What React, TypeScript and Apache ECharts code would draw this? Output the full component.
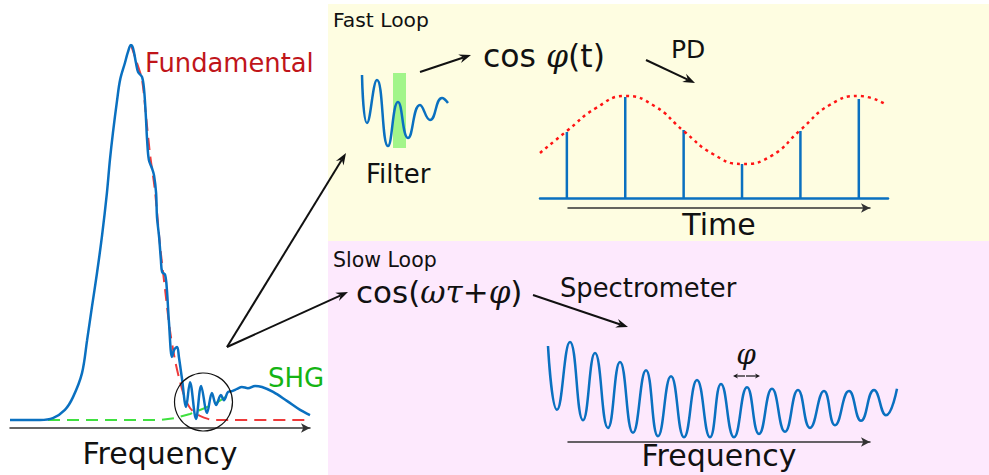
import React, { useEffect, useRef } from "react";
import * as echarts from "echarts";

// Left panel: measured spectrum, [frequency, intensity]
const spectrum: [number, number][] = [
  [0, 0], [10, 0], [14.3, 0.5], [18.3, 2.7], [21, 6.1], [24, 12.5], [25.7, 21.3],
  [27.3, 30.1], [29, 39.2], [30.7, 49.3], [32.3, 60.5], [33.3, 69.3], [34.3, 76.5],
  [35.7, 85.3], [36.7, 90.7], [38.3, 95.2], [39.3, 98.1], [40.3, 100], [41, 99.2],
  [42, 95.2], [42.7, 92.8], [44, 91.5], [44.7, 88], [45.3, 80.8], [45.7, 74.7],
  [46.3, 69.3], [47.3, 67.2], [48, 65.3], [48.7, 60.5], [49, 54.1], [49.7, 48.8],
  [50.3, 42.7], [50.7, 39.5], [51.7, 38.7], [52.3, 34.7], [53, 25.9], [54, 16.8],
  [54.7, 18.7], [55.7, 19.5], [56.3, 16.8], [57.3, 11.2], [58.7, 3.5], [60, 10.1],
  [62, 0.3], [63.7, 9.1], [65.7, 1.9], [67.3, 7.2], [68.7, 4], [70.3, 6.7],
  [71.3, 5.3], [72.7, 7.5], [74, 7.7], [75.7, 8.3], [77.3, 8.8], [79.3, 8.5],
  [81.7, 9.1], [84, 8.8], [87.7, 7.5], [92.3, 5.1], [96.7, 2.7], [100, 1.3],
];

// Fitted fundamental peak (falling edge) and SHG component
const fundamentalFit: [number, number][] = [
  [40.3, 100], [42, 96], [44, 90.7], [45.3, 81.3], [46.7, 70.7], [48.3, 61.3],
  [50, 46.7], [51.7, 34.7], [53.3, 24], [55, 16], [56.7, 10.1], [58.3, 5.9],
  [60, 3.2], [61.7, 1.9], [63.3, 1.1], [66, 0.3], [68.3, 0], [100, 0],
];
const shgFit: [number, number][] = [
  [0, 0], [50, 0], [55, 0.5], [60, 1.6], [65, 3.2], [69.3, 4.8], [73.3, 6.9],
];

// Fast loop: filtered fringe trace and pass band
const filterTrace: [number, number][] = [
  [7, 0.7], [12, -0.26], [22, 0.6], [33, -0.72], [43, 0.16], [53, -0.56],
  [65, 0.1], [75, -0.2], [87, 0.24], [93, 0.14],
];
const filterBand: [number, number][] = [[38, 0.74], [51, -0.76]];

// Photodiode pulses [pulse index, amplitude] and their envelope
const pulseAmplitudes: [number, number][] = [
  [1, 0.66], [2, 1.01], [3, 0.68], [4, 0.34], [5, 0.67], [6, 0.99],
];
const pulseEnvelope: [number, number][] = [
  [0.54, 0.45], [1, 0.67], [1.5, 0.9], [2, 1.02], [2.5, 0.92], [3, 0.67],
  [3.5, 0.44], [4, 0.34], [4.5, 0.42], [5, 0.68], [5.5, 0.93], [6, 1.02], [6.48, 0.93],
];

// Slow loop: spectral interference fringes
const fringes: [number, number][] = [
  [0, 0.71], [0.36, -0.45], [0.88, 0.78], [1.4, -0.64], [1.88, 0.58], [2.4, -0.78],
  [2.88, 0.42], [3.4, -0.87], [3.92, 0.27], [4.4, -0.93], [4.92, 0.16], [5.44, -0.95],
  [5.96, 0.09], [6.48, -0.95], [6.92, 0.02], [7.44, -0.95], [7.96, -0.04], [8.44, -0.89],
  [8.96, -0.07], [9.48, -0.85], [10, -0.09], [10.48, -0.78], [11.04, -0.11], [11.48, -0.73],
  [12.04, -0.11], [12.52, -0.65], [13.04, -0.09], [13.52, -0.55], [13.96, -0.07],
];

const FONT = "DejaVu Sans";
const SERIF = "DejaVu Serif";
const INK = "#111111";
const BLUE = "#0a70c0";

function arrowParts(x1: number, y1: number, x2: number, y2: number, len = 12, half = 4.5, notch = 4, width = 2) {
  const dx = x2 - x1;
  const dy = y2 - y1;
  const d = Math.hypot(dx, dy);
  const ux = dx / d;
  const uy = dy / d;
  const nx = -uy;
  const ny = ux;
  const bx = x2 - len * ux;
  const by = y2 - len * uy;
  const mx = x2 - (len - notch) * ux;
  const my = y2 - (len - notch) * uy;
  return [
    { type: "line", z: 20, shape: { x1, y1, x2: mx, y2: my }, style: { stroke: INK, lineWidth: width } },
    {
      type: "polygon",
      z: 20,
      shape: { points: [[x2, y2], [bx + half * nx, by + half * ny], [mx, my], [bx - half * nx, by - half * ny]] },
      style: { fill: INK },
    },
  ];
}

function label(text: string, x: number, y: number, size: number, fill = INK, align = "left") {
  return {
    type: "text",
    z: 20,
    x,
    y,
    style: { text, fontSize: size, fontFamily: FONT, fill, align, verticalAlign: "middle" },
  };
}

function mathLabel(text: string, x: number, y: number, size: number) {
  return {
    type: "text",
    z: 20,
    x,
    y,
    style: {
      text,
      align: "left",
      verticalAlign: "middle",
      rich: {
        a: { fontSize: size, fontFamily: FONT, fill: INK },
        g: { fontSize: size, fontFamily: SERIF, fontStyle: "italic", fill: INK },
      },
    },
  };
}

function arrowAxis(grid: number, name: string, nameGap: number) {
  return {
    gridIndex: grid,
    type: "value",
    min: 0,
    max: 1,
    name,
    nameLocation: "middle",
    nameGap,
    nameTextStyle: { fontSize: 30, fontFamily: FONT, color: INK },
    axisLine: {
      show: true,
      onZero: false,
      symbol: ["none", "arrow"],
      symbolSize: [7, 9],
      lineStyle: { color: "#333", width: 1.5 },
    },
    axisTick: { show: false },
    axisLabel: { show: false },
    splitLine: { show: false },
  };
}

export default function App() {
  const ref = useRef<HTMLDivElement>(null);

  useEffect(() => {
    if (!ref.current) return;
    const chart = echarts.init(ref.current, null, { renderer: "svg" });

    const hidden = { show: false };
    const graphic: any[] = [
      { type: "rect", z: -5, shape: { x: 328, y: 4, width: 661, height: 237 }, style: { fill: "#fefde1" } },
      { type: "rect", z: -5, shape: { x: 328, y: 241, width: 661, height: 234 }, style: { fill: "#fde9fd" } },
      { type: "circle", z: 20, shape: { cx: 203.5, cy: 402, r: 29 }, style: { fill: "none", stroke: INK, lineWidth: 1.2 } },
      label("Fundamental", 145, 62.5, 25.8, "#c0151a"),
      label("SHG", 268, 377.5, 26, "#14b414"),
      label("Fast Loop", 333, 19.5, 20.3),
      label("Slow Loop", 333, 259.5, 20.5),
      label("Filter", 366, 174, 26),
      label("PD", 671, 49, 25),
      label("Spectrometer", 560, 287.5, 25.8),
      mathLabel("{a|cos }{g|φ}{a|(t)}", 483, 56, 31.5),
      mathLabel("{a|cos(}{g|ωτ}{a|+}{g|φ}{a|)}", 356, 292, 31),
      {
        type: "text",
        z: 20,
        x: 746,
        y: 354,
        style: { text: "φ", fontSize: 28, fontFamily: SERIF, fontStyle: "italic", fill: INK, align: "center", verticalAlign: "middle" },
      },
      ...arrowParts(227, 347, 346, 153),
      ...arrowParts(227, 347, 348, 292),
      ...arrowParts(420, 72, 471, 55),
      ...arrowParts(646, 60, 695, 83),
      ...arrowParts(533, 295, 628, 327),
      ...arrowParts(745, 376, 733, 376, 5, 2.5, 1.5, 1.2),
      ...arrowParts(746, 376, 760, 376, 5, 2.5, 1.5, 1.2),
    ];

    chart.setOption({
      animation: false,
      backgroundColor: "#ffffff",
      grid: [
        { left: 10, top: 45, width: 300, height: 383 },
        { left: 355, top: 60, width: 100, height: 100 },
        { left: 540, top: 88, width: 348, height: 110 },
        { left: 568, top: 180, width: 302, height: 28 },
        { left: 548, top: 330, width: 350, height: 110 },
        { left: 568, top: 420, width: 302, height: 22 },
      ],
      xAxis: [
        {
          gridIndex: 0,
          type: "value",
          min: 0,
          max: 100,
          name: "Frequency",
          nameLocation: "middle",
          nameGap: 10,
          nameTextStyle: { fontSize: 30, fontFamily: FONT, color: INK },
          axisLine: {
            show: true,
            onZero: false,
            symbol: ["none", "arrow"],
            symbolSize: [7, 9],
            lineStyle: { color: "#333", width: 1.5 },
          },
          axisTick: hidden,
          axisLabel: hidden,
          splitLine: hidden,
        },
        { gridIndex: 1, type: "value", min: 0, max: 100, show: false },
        {
          gridIndex: 2,
          type: "value",
          min: 0.54,
          max: 6.5,
          axisLine: { show: true, onZero: true, lineStyle: { color: BLUE, width: 2.5 } },
          axisTick: hidden,
          axisLabel: hidden,
          splitLine: hidden,
        },
        arrowAxis(3, "Time", 1),
        { gridIndex: 4, type: "value", min: 0, max: 14, show: false },
        arrowAxis(5, "Frequency", -1.5),
      ],
      yAxis: [
        { gridIndex: 0, type: "value", min: -2.13, max: 100, show: false },
        { gridIndex: 1, type: "value", min: -1, max: 1, show: false },
        { gridIndex: 2, type: "value", min: 0, max: 1.1, show: false },
        { gridIndex: 3, type: "value", min: 0, max: 1, show: false },
        { gridIndex: 4, type: "value", min: -1, max: 1, show: false },
        { gridIndex: 5, type: "value", min: 0, max: 1, show: false },
      ],
      series: [
        {
          name: "SHG",
          type: "line",
          xAxisIndex: 0,
          yAxisIndex: 0,
          data: shgFit,
          showSymbol: false,
          z: 2,
          lineStyle: { color: "#40e040", width: 2, type: [12, 7] },
        },
        {
          name: "Fundamental",
          type: "line",
          xAxisIndex: 0,
          yAxisIndex: 0,
          data: fundamentalFit,
          showSymbol: false,
          smooth: 0.3,
          z: 3,
          lineStyle: { color: "#ee3a3a", width: 2, type: [12, 7] },
        },
        {
          name: "Spectrum",
          type: "line",
          xAxisIndex: 0,
          yAxisIndex: 0,
          data: spectrum,
          showSymbol: false,
          smooth: 0.35,
          z: 4,
          lineStyle: { color: BLUE, width: 2.5 },
        },
        {
          name: "Filtered",
          type: "line",
          xAxisIndex: 1,
          yAxisIndex: 1,
          data: filterTrace,
          showSymbol: false,
          smooth: 0.5,
          z: 3,
          lineStyle: { color: BLUE, width: 2.5 },
        },
        {
          name: "Pass band",
          type: "line",
          xAxisIndex: 1,
          yAxisIndex: 1,
          data: filterBand,
          showSymbol: false,
          z: 6,
          lineStyle: { opacity: 0 },
          markArea: {
            silent: true,
            itemStyle: { color: "rgba(100,240,80,0.6)" },
            data: [[{ coord: filterBand[0] }, { coord: filterBand[1] }]],
          },
        },
        {
          name: "Pulses",
          type: "bar",
          xAxisIndex: 2,
          yAxisIndex: 2,
          data: pulseAmplitudes,
          barWidth: 2.5,
          z: 3,
          itemStyle: { color: BLUE },
        },
        {
          name: "Envelope",
          type: "line",
          xAxisIndex: 2,
          yAxisIndex: 2,
          data: pulseEnvelope,
          showSymbol: false,
          smooth: 0.5,
          z: 5,
          lineStyle: { color: "#ff1414", width: 2.5, type: [3, 4] },
        },
        {
          name: "Fringes",
          type: "line",
          xAxisIndex: 4,
          yAxisIndex: 4,
          data: fringes,
          showSymbol: false,
          smooth: 0.5,
          z: 3,
          lineStyle: { color: BLUE, width: 2.5 },
        },
      ],
      graphic,
    });

    return () => chart.dispose();
  }, []);

  return (
    <div
      ref={ref}
      style={{ position: "fixed", left: 0, top: 0, width: 989, height: 475 }}
    />
  );
}
